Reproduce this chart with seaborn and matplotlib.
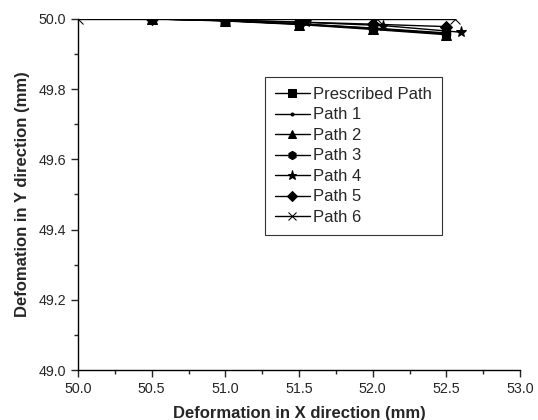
import numpy as np
import pandas as pd
import seaborn as sns
import matplotlib.pyplot as plt
from matplotlib.ticker import MultipleLocator

# data
paths = ["Prescribed Path", "Path 1", "Path 2", "Path 3", "Path 4", "Path 5", "Path 6"]
x_presc = [50.5, 51.0, 51.5, 52.0, 52.5]
y_presc = [50.0, 49.995, 49.986, 49.973, 49.958]
x_p1 = [50.5, 51.0, 51.5, 52.0, 52.5]
y_p1 = [50.0, 49.995, 49.985, 49.972, 49.957]
x_p2 = [50.5, 51.0, 51.5, 52.0, 52.5]
y_p2 = [50.0, 49.994, 49.984, 49.970, 49.955]
x_p3 = [50.5, 51.0, 51.5, 52.0, 52.5]
y_p3 = [50.0, 49.995, 49.986, 49.974, 49.960]
x_p4 = [50.5, 51.0, 51.55, 52.07, 52.6]
y_p4 = [50.0, 49.996, 49.990, 49.981, 49.962]
x_p5 = [50.5, 51.0, 51.5, 52.0, 52.5]
y_p5 = [50.0, 49.997, 49.991, 49.985, 49.978]
x_p6 = [50.0, 50.5, 51.0, 51.55, 52.03, 52.56]
y_p6 = [50.0, 50.0, 50.0, 50.0, 50.0, 50.0]

xs = [x_presc, x_p1, x_p2, x_p3, x_p4, x_p5, x_p6]
ys = [y_presc, y_p1, y_p2, y_p3, y_p4, y_p5, y_p6]
markers = ["s", ".", "^", "h", "*", "D", "x"]
msizes = [6, 5, 7, 7, 8, 6, 7]

sns.set_style("ticks")
plt.rcParams['font.family'] = ['Liberation Sans', 'DejaVu Sans']

fig = plt.figure(figsize=(5.38, 4.2), dpi=100)
ax = fig.add_axes([0.145, 0.119, 0.8216, 0.836])

for name, x, y, m, ms in zip(paths, xs, ys, markers, msizes):
    df = pd.DataFrame({"x": x, "y": y})
    sns.lineplot(data=df, x="x", y="y", ax=ax, color="black", marker=m,
                 markersize=ms, markeredgecolor="black", linewidth=1,
                 label=name, sort=False)

ax.set_xlim(50.0, 53.0)
ax.set_ylim(49.0, 50.0)
ax.xaxis.set_major_locator(MultipleLocator(0.5))
ax.xaxis.set_minor_locator(MultipleLocator(0.25))
ax.yaxis.set_major_locator(MultipleLocator(0.2))
ax.yaxis.set_minor_locator(MultipleLocator(0.1))
ax.xaxis.set_major_formatter(plt.FormatStrFormatter('%.1f'))
ax.yaxis.set_major_formatter(plt.FormatStrFormatter('%.1f'))
ax.tick_params(which='major', direction='out', length=5, width=1, labelsize=10.3)
ax.tick_params(which='minor', direction='out', length=3, width=1)
sns.despine(ax=ax)
for s in ["left", "bottom"]:
    ax.spines[s].set_linewidth(1)
    ax.spines[s].set_color("black")

ax.set_xlabel("Deformation in X direction (mm)", fontsize=12, fontweight='bold', labelpad=7)
ax.set_ylabel("Defomation in Y direction (mm)", fontsize=12, fontweight='bold', labelpad=6)

leg = ax.legend(loc='upper left', bbox_to_anchor=(0.423, 0.835), frameon=True,
                fancybox=False, edgecolor='black', fontsize=12, handlelength=2.1,
                handletextpad=0.2, borderpad=0.6, labelspacing=0.33,
                borderaxespad=0, markerscale=0.85)
leg.get_frame().set_linewidth(0.8)

plt.savefig("out.png", dpi=100)
